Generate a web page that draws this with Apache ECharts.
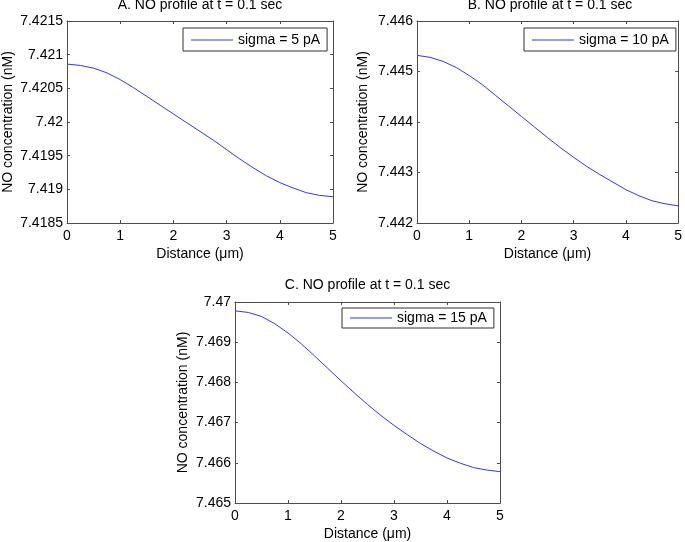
<!DOCTYPE html>
<html>
<head>
<meta charset="utf-8">
<script src="https://cdn.jsdelivr.net/npm/echarts@6/dist/echarts.min.js"></script>
<style>html,body{margin:0;padding:0;background:#fff;}#c{width:685px;height:542px;}</style>
</head>
<body>
<div id="c"></div>
<script>
const distance = [0, 0.25, 0.5, 0.75, 1, 1.25, 1.5, 1.75, 2, 2.25, 2.5, 2.75, 3, 3.25, 3.5, 3.75, 4, 4.25, 4.5, 4.75, 5];
const noA = [7.42086, 7.42084, 7.42080, 7.42073, 7.42063, 7.42051, 7.42038, 7.42025, 7.42012, 7.41999, 7.41986, 7.41973, 7.41959, 7.41945, 7.41932, 7.41920, 7.41910, 7.41902, 7.41895, 7.41891, 7.41889];
const noB = [7.44532, 7.44528, 7.44520, 7.44508, 7.44492, 7.44474, 7.44453, 7.44432, 7.44411, 7.44390, 7.44369, 7.44349, 7.44330, 7.44312, 7.44296, 7.44281, 7.44266, 7.44254, 7.44244, 7.44238, 7.44234];
const noC = [7.46978, 7.46974, 7.46964, 7.46946, 7.46923, 7.46896, 7.46866, 7.46835, 7.46804, 7.46774, 7.46745, 7.46718, 7.46693, 7.46670, 7.46648, 7.46629, 7.46612, 7.46599, 7.46588, 7.46582, 7.46578];
const titles = ['A. NO profile at t = 0.1 sec', 'B. NO profile at t = 0.1 sec', 'C. NO profile at t = 0.1 sec'];
const seriesNames = ['sigma = 5 pA', 'sigma = 10 pA', 'sigma = 15 pA'];
const yRanges = [[7.4185, 7.4215, 0.0005], [7.442, 7.446, 0.001], [7.465, 7.47, 0.001]];
const xRange = [0, 5, 1];
const xName = 'Distance (\u03bcm)';
const yName = 'NO concentration (nM)';

const FONT = '"Liberation Sans", Arial, sans-serif';
const AX = '#4d4d4d';
const grids = [
  {left: 67, top: 21, width: 266, height: 202},
  {left: 417, top: 21, width: 266, height: 202},
  {left: 235, top: 302, width: 265, height: 202}
];
const yNameGaps = [52, 47, 45];
const legendPos = [
  {left: 183, top: 28, padding: [5, 7, 4, 8]},
  {left: 524, top: 28, padding: [5, 7, 4, 8]},
  {left: 342, top: 308, padding: [3, 7, 3, 8]}
];
const titlePos = [{x: 200, y: -2}, {x: 550, y: -2}, {x: 367.5, y: 278}];
const dataSets = [noA, noB, noC];

const fmt = v => String(parseFloat(v.toFixed(5)));

const option = {
  backgroundColor: '#fff',
  animation: false,
  textStyle: {fontFamily: FONT},
  title: [], grid: [], xAxis: [], yAxis: [], legend: [], series: []
};

for (let i = 0; i < 3; i++) {
  const g = grids[i];
  option.grid.push(Object.assign({containLabel: false, show: false}, g));
  option.title.push({
    text: titles[i], left: titlePos[i].x, top: titlePos[i].y, textAlign: 'center', padding: 0,
    textStyle: {fontFamily: FONT, fontSize: 14, fontWeight: 'normal', color: '#000'}
  });
  const tick = {show: true, inside: true, length: 3, lineStyle: {color: AX, width: 1}};
  const line = {show: true, onZero: false, lineStyle: {color: AX, width: 1}};
  option.xAxis.push({
    type: 'value', gridIndex: i, position: 'bottom', min: xRange[0], max: xRange[1], interval: xRange[2],
    axisLine: line, axisTick: tick, splitLine: {show: false},
    axisLabel: {color: '#000', fontSize: 14, fontFamily: FONT, margin: 6},
    name: xName, nameLocation: 'middle', nameGap: 24,
    nameTextStyle: {color: '#000', fontSize: 14, fontFamily: FONT}
  });
  option.xAxis.push({
    type: 'value', gridIndex: i, position: 'top', min: xRange[0], max: xRange[1], interval: xRange[2],
    axisLine: line, axisTick: tick, splitLine: {show: false}, axisLabel: {show: false}
  });
  const yr = yRanges[i];
  option.yAxis.push({
    type: 'value', gridIndex: i, position: 'left', min: yr[0], max: yr[1], interval: yr[2],
    axisLine: line, axisTick: tick, splitLine: {show: false},
    axisLabel: {color: '#000', fontSize: 14, fontFamily: FONT, margin: 4, formatter: fmt},
    name: yName, nameLocation: 'middle', nameGap: yNameGaps[i], nameRotate: 90,
    nameTextStyle: {color: '#000', fontSize: 14, fontFamily: FONT}
  });
  option.yAxis.push({
    type: 'value', gridIndex: i, position: 'right', min: yr[0], max: yr[1], interval: yr[2],
    axisLine: line, axisTick: tick, splitLine: {show: false}, axisLabel: {show: false}
  });
  option.legend.push(Object.assign({
    data: [seriesNames[i]], orient: 'vertical', itemWidth: 42, itemHeight: 14, itemGap: 0,
    backgroundColor: '#fff', borderColor: '#333', borderWidth: 1, borderRadius: 0,
    textStyle: {color: '#000', fontSize: 14, fontFamily: FONT, padding: [0, 0, 0, 0]},
    icon: 'path://M0,0.5L42,0.5L42,1.5L0,1.5Z'
  }, legendPos[i]));
  option.series.push({
    name: seriesNames[i], type: 'line', xAxisIndex: 2 * i, yAxisIndex: 2 * i,
    data: distance.map((d, k) => [d, dataSets[i][k]]),
    symbol: 'none', showSymbol: false, smooth: false,
    lineStyle: {color: '#3333ff', width: 1}, itemStyle: {color: '#3333ff'}
  });
}

const chart = echarts.init(document.getElementById('c'), null, {renderer: 'canvas'});
chart.setOption(option);
</script>
</body>
</html>
